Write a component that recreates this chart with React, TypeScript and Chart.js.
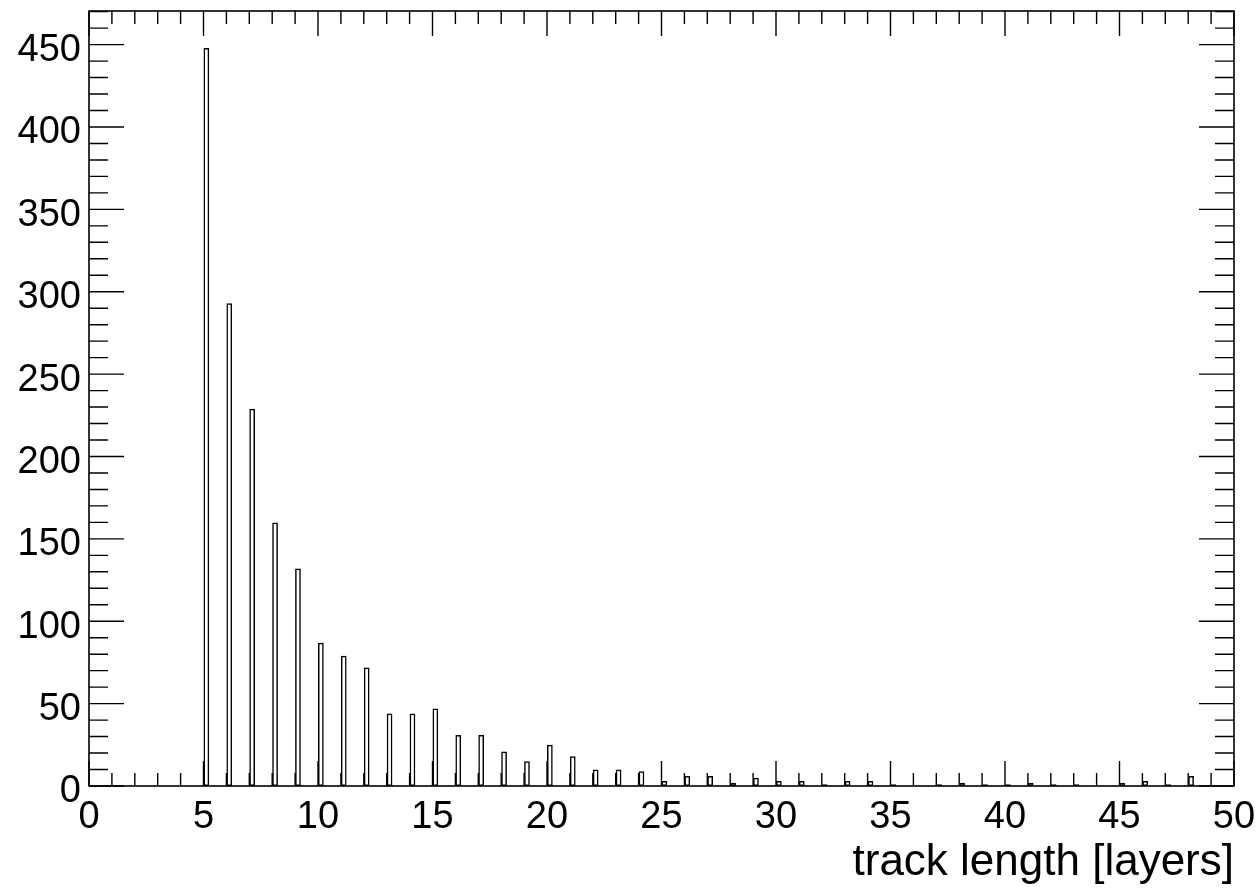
import { useEffect, useRef } from "react";
import { Chart, registerables } from "chart.js";

Chart.register(...registerables);

// Histogram of track lengths: one bin of width 0.25 starting at each integer layer count.
const binStart = [
  5, 6, 7, 8, 9, 10, 11, 12, 13, 14, 15, 16, 17, 18, 19, 20, 21, 22, 23, 24, 25, 26, 27,
  28, 29, 30, 31, 32, 33, 34, 35, 36, 37, 38, 39, 40, 41, 42, 43, 44, 45, 46, 47, 48, 49,
];
const counts = [
  448, 293, 229, 160, 132, 87, 79, 72, 44, 44, 47, 31, 31, 21, 15, 25, 18, 10, 10, 9, 3, 6, 6,
  2, 5, 3, 3, 1, 3, 3, 1, 0, 1, 2, 1, 1, 2, 1, 1, 0, 2, 3, 1, 6, 0,
];
const binWidth = 0.25;
const xTickLabels = [0, 5, 10, 15, 20, 25, 30, 35, 40, 45, 50];
const yTickLabels = [0, 50, 100, 150, 200, 250, 300, 350, 400, 450];
const xTitle = "track length [layers]";

const FONT = "'Liberation Sans', Arial, Helvetica, sans-serif";
const W = 1258;
const H = 893;

// Inward-facing frame ticks on all four sides, major and minor.
const frameTicks = {
  id: "frameTicks",
  afterDraw(chart: any) {
    const { ctx, chartArea } = chart;
    const { left, right, top, bottom } = chartArea;
    const xs = chart.scales.x;
    const ys = chart.scales.y;
    ctx.save();
    ctx.strokeStyle = "#000";
    ctx.lineWidth = 1.4;
    ctx.beginPath();
    for (let v = xs.min; v <= xs.max + 1e-9; v += 1) {
      const px = xs.getPixelForValue(v);
      const len = Math.round(v) % 5 === 0 ? 25 : 13;
      ctx.moveTo(px, bottom);
      ctx.lineTo(px, bottom - len);
      ctx.moveTo(px, top);
      ctx.lineTo(px, top + len);
    }
    for (let v = 0; v <= ys.max + 1e-9; v += 10) {
      const py = ys.getPixelForValue(v);
      const len = Math.round(v) % 50 === 0 ? 35 : 19;
      ctx.moveTo(left, py);
      ctx.lineTo(left + len, py);
      ctx.moveTo(right, py);
      ctx.lineTo(right - len, py);
    }
    ctx.stroke();
    ctx.lineWidth = 1.6;
    ctx.strokeRect(left, top, right - left, bottom - top);
    ctx.restore();
  },
};

export default function App() {
  const ref = useRef<HTMLCanvasElement | null>(null);

  useEffect(() => {
    document.body.style.margin = "0";
    if (!ref.current) return;
    const yMax = Math.max(...counts) * 1.05;
    const chart = new Chart(ref.current, {
      type: "bar",
      data: {
        datasets: [
          {
            data: counts.map((c, i) => ({ x: binStart[i] + binWidth / 2, y: c })),
            backgroundColor: "rgba(255,255,255,0)",
            borderColor: "#000",
            borderWidth: 1.5,
            borderSkipped: false,
            categoryPercentage: 1,
            barPercentage: binWidth,
          },
        ],
      },
      options: {
        animation: false,
        responsive: false,
        devicePixelRatio: 1,
        layout: { padding: { left: 0, top: 11, right: 24, bottom: 0 } },
        plugins: { legend: { display: false }, tooltip: { enabled: false } },
        scales: {
          x: {
            type: "linear",
            min: 0,
            max: 50,
            offset: false,
            grid: { display: false, drawTicks: false, offset: false },
            border: { display: false },
            afterBuildTicks: (s: any) => {
              s.ticks = xTickLabels.map((v) => ({ value: v }));
            },
            ticks: {
              autoSkip: false,
              maxRotation: 0,
              padding: 9,
              color: "#000",
              font: { family: FONT, size: 38 },
            },
            title: {
              display: true,
              text: xTitle,
              align: "end",
              color: "#000",
              font: { family: FONT, size: 44 },
              padding: { top: 0, bottom: 4 },
            },
            afterFit: (s: any) => {
              s.height = H - 786;
              s.paddingLeft = 0;
              s.paddingRight = 0;
            },
          },
          y: {
            type: "linear",
            min: 0,
            max: yMax,
            grid: { display: false, drawTicks: false },
            border: { display: false },
            afterBuildTicks: (s: any) => {
              s.ticks = yTickLabels.map((v) => ({ value: v }));
            },
            ticks: {
              padding: 8,
              labelOffset: 6,
              color: "#000",
              font: { family: FONT, size: 38 },
            },
            afterFit: (s: any) => {
              s.width = 89;
              s.paddingTop = 0;
              s.paddingBottom = 0;
            },
          },
        },
      },
      plugins: [frameTicks],
    });
    return () => chart.destroy();
  }, []);

  return (
    <div style={{ width: W, height: H, background: "#fff" }}>
      <canvas ref={ref} width={W} height={H} style={{ display: "block" }} />
    </div>
  );
}
